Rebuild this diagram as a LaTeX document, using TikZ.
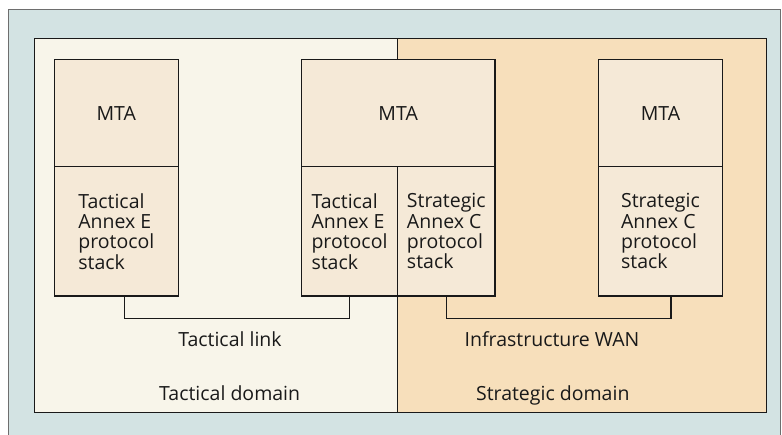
\documentclass[tikz,border=0pt]{standalone}
\usepackage{fontspec}
\setmainfont{Open Sans}
\definecolor{panel}{RGB}{211,227,227}
\definecolor{panelline}{RGB}{110,110,110}
\definecolor{tacfill}{RGB}{248,245,234}
\definecolor{strfill}{RGB}{247,223,187}
\definecolor{boxfill}{RGB}{245,233,215}
\definecolor{ink}{RGB}{25,25,25}
\begin{document}
\begin{tikzpicture}[x=1pt,y=-1pt,
  every node/.style={inner sep=0pt,outer sep=0pt,text=ink,font=\fontsize{19.5}{20.3}\selectfont},
  domainbox/.style={draw=ink,line width=1.1pt,anchor=north west},
  unit/.style={draw=ink,fill=boxfill,line width=1.1pt,anchor=north west},
  stacktext/.style={align=left},
  link/.style={draw=ink,line width=1.1pt},
  caption/.style={anchor=base}]
  \useasboundingbox (0,0) rectangle (782,434);
  % background panel
  \filldraw[fill=panel,draw=panelline,line width=0.9pt] (8,9) rectangle (780,445);
  % domains
  \node[domainbox,fill=tacfill,minimum width=362.6pt,minimum height=374.4pt] (tacdom) at (34.7,38.3) {};
  \node[domainbox,fill=strfill,minimum width=369.4pt,minimum height=374.4pt] (strdom) at (397.3,38.3) {};
  % left node
  \node[unit,minimum width=124pt,minimum height=107pt] (mta1) at (54.3,59.7) {MTA};
  \node[unit,minimum width=124pt,minimum height=129.3pt] (st1) at (54.3,166.7) {};
  \node[stacktext] at (st1.center) {Tactical\\Annex E\\protocol\\stack};
  % gateway node
  \node[unit,minimum width=193.7pt,minimum height=107pt] (mta2) at (301.3,59.7) {MTA};
  \node[unit,minimum width=96.4pt,minimum height=129.3pt] (st2a) at (301.3,166.7) {};
  \node[unit,minimum width=97.3pt,minimum height=129.3pt] (st2b) at (397.7,166.7) {};
  \node[stacktext] at (st2a.center) {Tactical\\Annex E\\protocol\\stack};
  \node[stacktext] at (st2b.center) {Strategic\\Annex C\\protocol\\stack};
  % right node
  \node[unit,minimum width=123.6pt,minimum height=107pt] (mta3) at (598.7,59.7) {MTA};
  \node[unit,minimum width=123.6pt,minimum height=129.3pt] (st3) at (598.7,166.7) {};
  \node[stacktext] at (st3.center) {Strategic\\Annex C\\protocol\\stack};
  % links
  \draw[link] ([xshift=8.4pt]st1.south) |- ([yshift=-22.3pt]st2a.south) -- (st2a.south);
  \draw[link] (st2b.south) |- ([xshift=10.5pt,yshift=-22.3pt]st3.south) -- ([xshift=10.5pt]st3.south);
  % captions
  \node[caption] (tlink) at (230,346.7) {Tactical link};
  \node[caption] (wan) at (552,346.7) {Infrastructure WAN};
  \node[caption] (tdomlbl) at (229.7,400) {Tactical domain};
  \node[caption] (sdomlbl) at (552.8,400) {Strategic domain};
\end{tikzpicture}
\end{document}
